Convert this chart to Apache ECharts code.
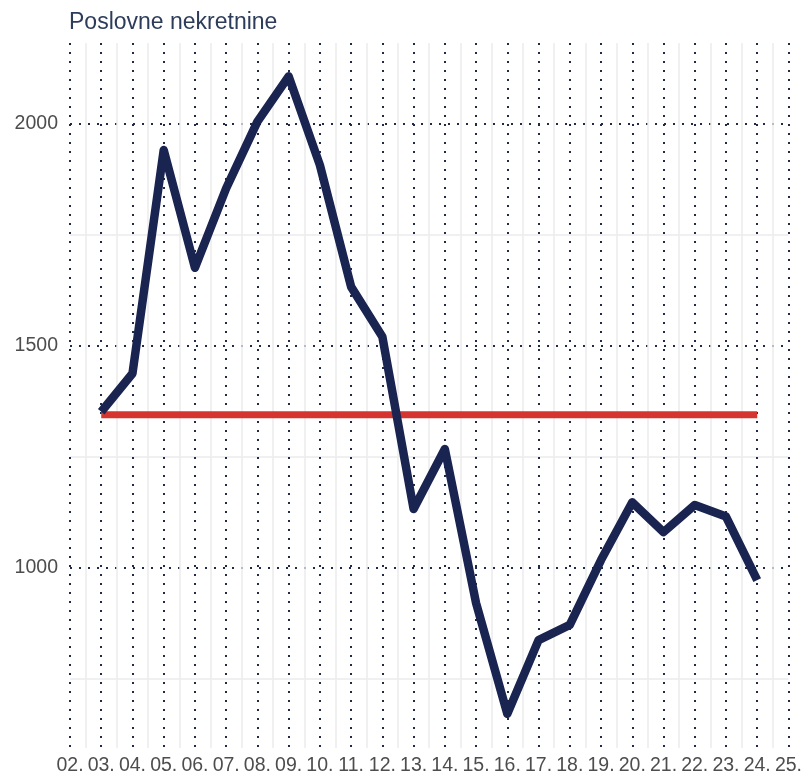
<!DOCTYPE html>
<html>
<head>
<meta charset="utf-8">
<script src="https://cdn.jsdelivr.net/npm/echarts@6/dist/echarts.min.js"></script>
<style>
html,body{margin:0;padding:0;background:#fff;}
#chart{width:805px;height:776px;}
</style>
</head>
<body>
<div id="chart"></div>
<script>
var tickLabels = ['02.','03.','04.','05.','06.','07.','08.','09.','10.','11.','12.','13.','14.','15.','16.','17.','18.','19.','20.','21.','22.','23.','24.','25.'];
var days = ['03.','04.','05.','06.','07.','08.','09.','10.','11.','12.','13.','14.','15.','16.','17.','18.','19.','20.','21.','22.','23.','24.'];
var values = [1351,1437,1940,1675,1854,2004,2106,1906,1632,1520,1132,1267,920,671,837,871,1017,1147,1080,1141,1115,972];
var averageValue = 1344;
var titleText = 'Poslovne nekretnine';

var chart = echarts.init(document.getElementById('chart'), null, {renderer:'canvas'});
var font = "'Liberation Sans', Arial, sans-serif";
var dotted = {color:'#1f2a44', width:2, type:[2,7], cap:'butt'};
var minor = {color:'#ebebeb', width:1.5};

chart.setOption({
  animation:false,
  backgroundColor:'#ffffff',
  title:{text:titleText, left:64, top:6, textStyle:{fontFamily:font, fontSize:23, fontWeight:'normal', color:'#2c3c5a'}},
  grid:{left:70, right:10, top:43, bottom:28, containLabel:false},
  xAxis:[{
    type:'category', data:tickLabels, boundaryGap:false,
    axisLine:{show:false}, axisTick:{show:false},
    axisLabel:{fontFamily:font, fontSize:19.5, color:'#4d4d4d', margin:8, interval:0},
    splitLine:{show:true, interval:0, lineStyle:dotted}
  },{
    type:'value', min:0, max:tickLabels.length-1, interval:1, position:'top',
    axisLine:{show:false}, axisTick:{show:false}, axisLabel:{show:false},
    splitLine:{show:false},
    minorTick:{show:false, splitNumber:2},
    minorSplitLine:{show:true, lineStyle:minor}
  }],
  yAxis:{
    type:'value', min:594, max:2181, splitNumber:3,
    axisLine:{show:false}, axisTick:{show:false},
    axisLabel:{fontFamily:font, fontSize:19.5, color:'#4d4d4d', margin:12, showMinLabel:false, showMaxLabel:false,
      formatter:function(v){return String(v);}},
    splitLine:{show:true, showMinLine:false, showMaxLine:false, lineStyle:dotted},
    minorTick:{show:false, splitNumber:2},
    minorSplitLine:{show:true, lineStyle:minor}
  },
  series:[{
    type:'line', xAxisIndex:0,
    data:[[days[0], averageValue],[days[days.length-1], averageValue]],
    symbol:'none', silent:true,
    lineStyle:{color:'#d6342f', width:7, cap:'butt'}
  },{
    type:'line', xAxisIndex:0,
    data:days.map(function(d,i){return [d, values[i]];}),
    symbol:'none', silent:true,
    lineStyle:{color:'#1a2450', width:8.5, join:'round', cap:'butt'}
  }]
});
</script>
</body>
</html>
